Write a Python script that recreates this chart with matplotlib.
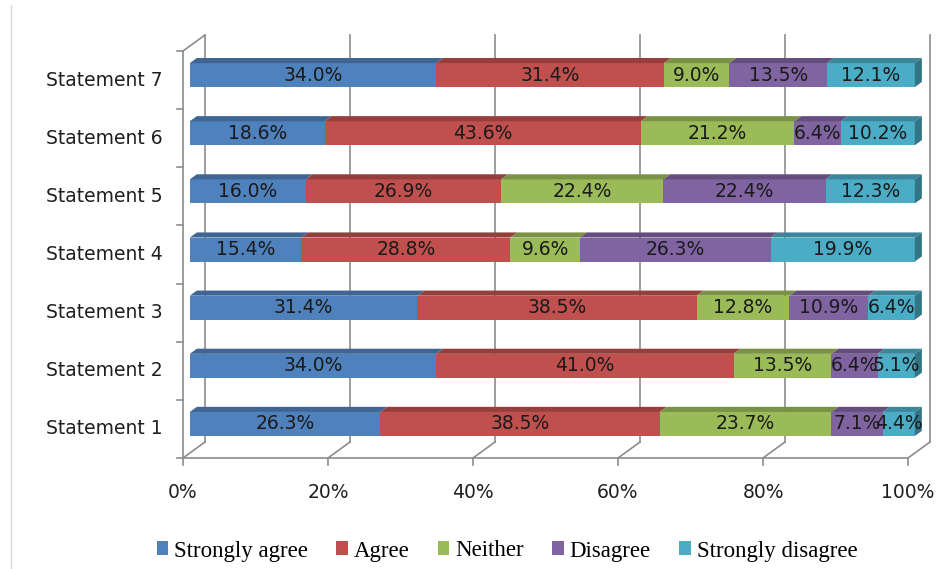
import matplotlib
matplotlib.use("Agg")
import matplotlib.pyplot as plt
from matplotlib.patches import Rectangle, Polygon, Patch
from matplotlib.lines import Line2D
from matplotlib.colors import to_rgb

# ---- data ----------------------------------------------------------------
statements = ["Statement 1", "Statement 2", "Statement 3", "Statement 4",
              "Statement 5", "Statement 6", "Statement 7"]
series_names = ["Strongly agree", "Agree", "Neither", "Disagree",
                "Strongly disagree"]
strongly_agree = [26.3, 34.0, 31.4, 15.4, 16.0, 18.6, 34.0]
agree = [38.5, 41.0, 38.5, 28.8, 26.9, 43.6, 31.4]
neither = [23.7, 13.5, 12.8, 9.6, 22.4, 21.2, 9.0]
disagree = [7.1, 6.4, 10.9, 26.3, 22.4, 6.4, 13.5]
strongly_disagree = [4.4, 5.1, 6.4, 19.9, 12.3, 10.2, 12.1]
x_ticks = [0, 20, 40, 60, 80, 100]
x_tick_labels = ["0%", "20%", "40%", "60%", "80%", "100%"]

series_values = [strongly_agree, agree, neither, disagree, strongly_disagree]
colors = ["#4F81BD", "#C0504D", "#9BBB59", "#8064A2", "#4BACC6"]

# ---- figure / axes -------------------------------------------------------
W, H = 936, 569
fig = plt.figure(figsize=(W / 100, H / 100), dpi=100)
fig.patch.set_facecolor("white")

# front floor of the plot box in pixels
x0_px, x1_px = 183, 908
ytop_px, ybot_px = 51, 458
ax = fig.add_axes([x0_px / W, 1 - ybot_px / H,
                   (x1_px - x0_px) / W, (ybot_px - ytop_px) / H])
n = len(statements)
ax.set_xlim(0, 100)
ax.set_ylim(-0.5, n - 0.5)
ax.axis("off")

sx = (x1_px - x0_px) / 100.0          # px per percent
sy = (ybot_px - ytop_px) / n          # px per category
DX = 22 / sx                          # depth vector in data units
DY = 16 / sy

grid_c = "#8C8C8C"
lw = 1.2
fs = 13.5

def shade(c, k):
    r, g, b = to_rgb(c)
    return (r * k, g * k, b * k)

# back wall vertical gridlines
for xv, lab in zip(x_ticks, x_tick_labels):
    ax.add_line(Line2D([xv + DX, xv + DX], [-0.5 + DY, n - 0.5 + DY],
                       color=grid_c, lw=lw, clip_on=False, zorder=1))
    # floor diagonals
    ax.add_line(Line2D([xv, xv + DX], [-0.5, -0.5 + DY],
                       color=grid_c, lw=lw, clip_on=False, zorder=1))
    # tick marks below the floor
    ax.add_line(Line2D([xv, xv], [-0.5, -0.5 - 7 / sy],
                       color=grid_c, lw=lw, clip_on=False, zorder=1))
    ax.text(xv, -0.5 - 34 / sy, lab, ha="center", va="center",
            fontsize=fs, color="#1F1F1F", family="DejaVu Sans")

# front floor line and left wall
ax.add_line(Line2D([0, 100], [-0.5, -0.5], color=grid_c, lw=lw,
                   clip_on=False, zorder=1))
ax.add_line(Line2D([0, 0], [-0.5, n - 0.5], color=grid_c, lw=lw,
                   clip_on=False, zorder=1))
ax.add_line(Line2D([0, DX], [n - 0.5, n - 0.5 + DY], color=grid_c, lw=lw,
                   clip_on=False, zorder=1))
for k in range(n + 1):
    ax.add_line(Line2D([0, -6 / sx], [k - 0.5, k - 0.5], color=grid_c,
                       lw=lw, clip_on=False, zorder=1))

# category labels
for i, name in enumerate(statements):
    ax.text(-20 / sx, i, name, ha="right", va="center", fontsize=fs,
            color="#1F1F1F", family="DejaVu Sans")

# ---- 3-D style stacked bars ---------------------------------------------
f0, f1 = 0.31, 0.63          # front / back depth of the bars
hh = 12 / sy                 # half bar height
for i in range(n):
    left = 0.0
    for s, vals in enumerate(series_values):
        v = vals[i]
        c = colors[s]
        fx, fy = f0 * DX, f0 * DY
        bx, by = f1 * DX, f1 * DY
        # front face
        ax.add_patch(Rectangle((left + fx, i - hh + fy), v, 2 * hh,
                               facecolor=c, edgecolor="none",
                               clip_on=False, zorder=3))
        # top face
        top = [(left + fx, i + hh + fy), (left + bx, i + hh + by),
               (left + v + bx, i + hh + by), (left + v + fx, i + hh + fy)]
        ax.add_patch(Polygon(top, closed=True, facecolor=shade(c, 0.78),
                             edgecolor="none", clip_on=False, zorder=3))
        # right side face of the last segment
        if s == len(series_values) - 1:
            r = left + v
            side = [(r + fx, i - hh + fy), (r + fx, i + hh + fy),
                    (r + bx, i + hh + by), (r + bx, i - hh + by)]
            ax.add_patch(Polygon(side, closed=True,
                                 facecolor=shade(c, 0.68),
                                 edgecolor="none", clip_on=False, zorder=3))
        ax.text(left + v / 2 + fx, i + fy, f"{v:.1f}%", ha="center",
                va="center", fontsize=fs, color="#1A1A1A",
                family="DejaVu Sans", zorder=5)
        left += v

# ---- outer frame line on the left --------------------------------------
fig.add_artist(Line2D([11 / W, 11 / W], [0, 1 - 5 / H], color="#D9D9D9",
                      lw=1.0, transform=fig.transFigure))

# ---- legend --------------------------------------------------------------
handles = [Patch(facecolor=c, edgecolor="none") for c in colors]
leg = fig.legend(handles, series_names, loc="center",
                 bbox_to_anchor=(507 / W, 1 - 551 / H), ncol=5,
                 frameon=False, handlelength=0.5, handleheight=0.55,
                 handletextpad=0.25, columnspacing=1.25,
                 prop={"family": "Liberation Serif", "size": 16.5})

fig.savefig("out.png", dpi=100, facecolor="white")
